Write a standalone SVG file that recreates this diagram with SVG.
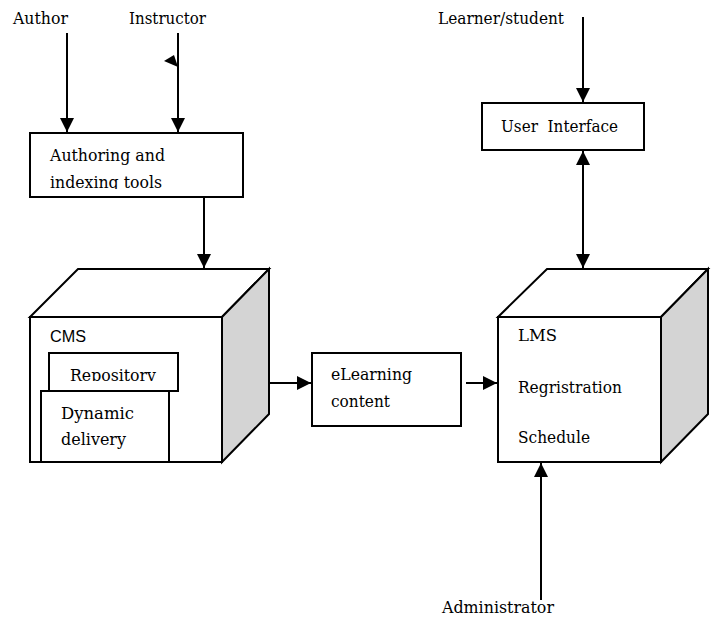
<svg xmlns="http://www.w3.org/2000/svg" width="715" height="617" viewBox="0 0 715 617">
<style>
.t{font-family:'DejaVu Serif','Liberation Serif',serif;font-size:17px;fill:#000}
.s{font-family:'Liberation Sans',Arial,sans-serif;font-size:16px;fill:#000}
.b{fill:#fff;stroke:#000;stroke-width:2}
.side{fill:#d4d4d4;stroke:#000;stroke-width:2;stroke-linejoin:miter}
.c{stroke:#000;stroke-width:2;fill:none}
</style>
<defs>
<marker id="ah2" viewBox="0 0 10 10" refX="10" refY="5" markerWidth="14" markerHeight="14" markerUnits="userSpaceOnUse" orient="auto-start-reverse">
<path d="M0,0 L10,5 L0,10 Z" fill="#000"/>
</marker>
<clipPath id="clipAuth"><rect x="30" y="133" width="213" height="56"/></clipPath>
<clipPath id="clipRep"><rect x="49" y="353" width="129" height="28"/></clipPath>
</defs>

<g id="author"><text class="t" x="13" y="24" textLength="55" lengthAdjust="spacingAndGlyphs">Author</text></g>
<g id="instructor"><text class="t" x="129" y="24" textLength="77" lengthAdjust="spacingAndGlyphs">Instructor</text></g>
<g id="learner"><text class="t" x="438" y="24" textLength="126" lengthAdjust="spacingAndGlyphs">Learner/student</text></g>
<g id="administrator"><text class="t" x="442" y="613" textLength="112" lengthAdjust="spacingAndGlyphs">Administrator</text></g>

<g id="authoring">
<rect class="b" x="30" y="133" width="213" height="64"/>
<g clip-path="url(#clipAuth)">
<text class="t" x="50" y="161" textLength="115" lengthAdjust="spacingAndGlyphs">Authoring and</text>
<text class="t" x="50" y="188" textLength="112" lengthAdjust="spacingAndGlyphs">indexing tools</text>
</g>
</g>

<g id="user-interface">
<rect class="b" x="482" y="103" width="162" height="47"/>
<text class="t" x="501" y="132" textLength="117" lengthAdjust="spacingAndGlyphs" xml:space="preserve">User  Interface</text>
</g>

<g id="cms">
<polygon class="b" points="30,317 78,269 269,269 222,317"/>
<polygon class="side" points="222,317 269,269 269,414 222,462"/>
<rect class="b" x="30" y="317" width="192" height="145"/>
<text class="s" x="50" y="342" textLength="36" lengthAdjust="spacingAndGlyphs">CMS</text>
<g id="repository">
<rect class="b" x="49" y="353" width="129" height="38"/>
<g clip-path="url(#clipRep)"><text class="t" x="70" y="381" textLength="86" lengthAdjust="spacingAndGlyphs">Repository</text></g>
</g>
<g id="dynamic-delivery">
<rect class="b" x="41" y="391" width="128" height="71"/>
<text class="t" x="61" y="419" textLength="73" lengthAdjust="spacingAndGlyphs">Dynamic</text>
<text class="t" x="61" y="445" textLength="65" lengthAdjust="spacingAndGlyphs">delivery</text>
</g>
</g>

<g id="elearning">
<rect class="b" x="312" y="353" width="149" height="73"/>
<text class="t" x="331" y="380" textLength="81" lengthAdjust="spacingAndGlyphs">eLearning</text>
<text class="t" x="331" y="407" textLength="59" lengthAdjust="spacingAndGlyphs">content</text>
</g>

<g id="lms">
<polygon class="b" points="498,317 547,269 708,269 661,317"/>
<polygon class="side" points="661,317 708,269 708,414 661,462"/>
<rect class="b" x="498" y="317" width="163" height="145"/>
<text class="t" x="518" y="341" textLength="39" lengthAdjust="spacingAndGlyphs">LMS</text>
<text class="t" x="518" y="393" textLength="104" lengthAdjust="spacingAndGlyphs">Regristration</text>
<text class="t" x="518" y="443" textLength="72" lengthAdjust="spacingAndGlyphs">Schedule</text>
</g>

<g id="connectors">
<line class="c" x1="67" y1="33" x2="67" y2="132" marker-end="url(#ah2)"/>
<line class="c" x1="178" y1="33" x2="178" y2="132" marker-end="url(#ah2)"/>
<polygon points="164,61 174,55 178,67" fill="#000"/>
<line class="c" x1="204" y1="197" x2="204" y2="268" marker-end="url(#ah2)"/>
<line class="c" x1="270" y1="383" x2="311" y2="383" marker-end="url(#ah2)"/>
<line class="c" x1="466" y1="383" x2="497" y2="383" marker-end="url(#ah2)"/>
<line class="c" x1="583" y1="17" x2="583" y2="102" marker-end="url(#ah2)"/>
<line class="c" x1="583" y1="151" x2="583" y2="268" marker-start="url(#ah2)" marker-end="url(#ah2)"/>
<line class="c" x1="541" y1="600" x2="541" y2="463" marker-end="url(#ah2)"/>
</g>
</svg>
